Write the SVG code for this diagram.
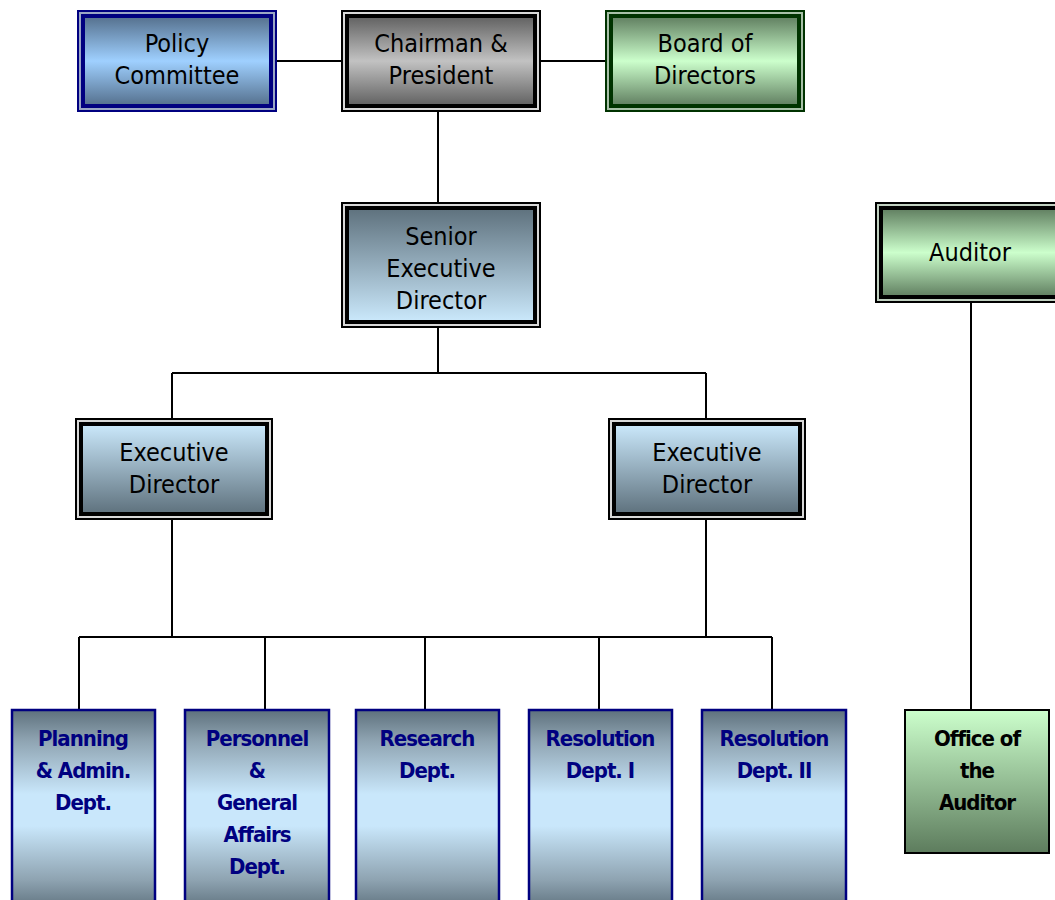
<svg xmlns="http://www.w3.org/2000/svg" width="1055" height="900" viewBox="0 0 1055 900">
<defs>
<linearGradient id="gBlue" x1="0" y1="0" x2="0" y2="1"><stop offset="0" stop-color="#546f8c"/><stop offset="0.5" stop-color="#9fd0ff"/><stop offset="1" stop-color="#546f8c"/></linearGradient>
<linearGradient id="gGray" x1="0" y1="0" x2="0" y2="1"><stop offset="0" stop-color="#606060"/><stop offset="0.5" stop-color="#c2c2c2"/><stop offset="1" stop-color="#606060"/></linearGradient>
<linearGradient id="gGreen" x1="0" y1="0" x2="0" y2="1"><stop offset="0" stop-color="#5f7d5f"/><stop offset="0.5" stop-color="#ccffcc"/><stop offset="1" stop-color="#5f7d5f"/></linearGradient>
<linearGradient id="gSenior" x1="0" y1="0" x2="0" y2="1"><stop offset="0" stop-color="#5e717d"/><stop offset="1" stop-color="#cbe9fc"/></linearGradient>
<linearGradient id="gExec" x1="0" y1="0" x2="0" y2="1"><stop offset="0" stop-color="#cbe9fc"/><stop offset="1" stop-color="#5e717d"/></linearGradient>
<linearGradient id="gDept" x1="0" y1="0" x2="0" y2="1"><stop offset="0" stop-color="#5e717d"/><stop offset="0.15" stop-color="#8ea3b1"/><stop offset="0.42" stop-color="#c9e7fb"/><stop offset="0.58" stop-color="#c9e7fb"/><stop offset="0.85" stop-color="#8ea3b1"/><stop offset="1" stop-color="#5e717d"/></linearGradient>
<linearGradient id="gOffice" x1="0" y1="0" x2="0" y2="1"><stop offset="0" stop-color="#ccffcc"/><stop offset="1" stop-color="#5d7c5d"/></linearGradient>
<style>
.t{font-family:"DejaVu Sans Condensed","DejaVu Sans",sans-serif;font-stretch:condensed;font-size:25px;fill:#000;text-anchor:middle}
.d{font-family:"DejaVu Sans Condensed","DejaVu Sans",sans-serif;font-stretch:condensed;font-weight:bold;font-size:22px;letter-spacing:-1px;fill:#000080;text-anchor:middle}
.c{stroke:#000;stroke-width:2;fill:none}
.outer{stroke-width:2}
.inner{stroke-width:4}
.dept{stroke:#000080;stroke-width:2.5;fill:url(#gDept)}
</style>
</defs>
<g id="connectors" class="c">
<line x1="277" y1="61" x2="341" y2="61"/>
<line x1="541" y1="61" x2="605" y2="61"/>
<line x1="438" y1="112" x2="438" y2="202"/>
<line x1="438" y1="328" x2="438" y2="373"/>
<line x1="172" y1="373" x2="706" y2="373"/>
<line x1="172" y1="373" x2="172" y2="418"/>
<line x1="706" y1="373" x2="706" y2="418"/>
<line x1="172" y1="520" x2="172" y2="637"/>
<line x1="706" y1="520" x2="706" y2="637"/>
<line x1="79" y1="637" x2="772" y2="637"/>
<line x1="79" y1="637" x2="79" y2="709"/>
<line x1="265" y1="637" x2="265" y2="709"/>
<line x1="425" y1="637" x2="425" y2="709"/>
<line x1="599" y1="637" x2="599" y2="709"/>
<line x1="772" y1="637" x2="772" y2="709"/>
<line x1="971" y1="303" x2="971" y2="709"/>
</g>
<g id="policy">
<rect class="outer" x="78" y="11" width="198" height="100" fill="#9aa6c4" stroke="#000080"/>
<rect class="inner" x="83" y="16" width="188" height="90" fill="url(#gBlue)" stroke="#000080"/>
<text class="t" x="177" y="52">Policy</text>
<text class="t" x="177" y="84">Committee</text>
</g>
<g id="chairman">
<rect class="outer" x="342" y="11" width="198" height="100" fill="#d8d8d8" stroke="#000"/>
<rect class="inner" x="347" y="16" width="188" height="90" fill="url(#gGray)" stroke="#000"/>
<text class="t" x="441" y="52">Chairman &amp;</text>
<text class="t" x="441" y="84">President</text>
</g>
<g id="board">
<rect class="outer" x="606" y="11" width="198" height="100" fill="#a8c0a8" stroke="#003300"/>
<rect class="inner" x="611" y="16" width="188" height="90" fill="url(#gGreen)" stroke="#003300"/>
<text class="t" x="705" y="52">Board of</text>
<text class="t" x="705" y="84">Directors</text>
</g>
<g id="senior">
<rect class="outer" x="342" y="203" width="198" height="124" fill="#d8d8d8" stroke="#000"/>
<rect class="inner" x="347" y="208" width="188" height="114" fill="url(#gSenior)" stroke="#000"/>
<text class="t" x="441" y="245">Senior</text>
<text class="t" x="441" y="277">Executive</text>
<text class="t" x="441" y="309">Director</text>
</g>
<g id="auditor">
<rect class="outer" x="876" y="203" width="190" height="99" fill="#c0d0c0" stroke="#000"/>
<rect class="inner" x="881" y="208" width="180" height="89" fill="url(#gGreen)" stroke="#000"/>
<text class="t" x="970" y="261">Auditor</text>
</g>
<g id="exec-left">
<rect class="outer" x="76" y="419" width="196" height="100" fill="#d8d8d8" stroke="#000"/>
<rect class="inner" x="81" y="424" width="186" height="90" fill="url(#gExec)" stroke="#000"/>
<text class="t" x="174" y="461">Executive</text>
<text class="t" x="174" y="493">Director</text>
</g>
<g id="exec-right">
<rect class="outer" x="609" y="419" width="196" height="100" fill="#d8d8d8" stroke="#000"/>
<rect class="inner" x="614" y="424" width="186" height="90" fill="url(#gExec)" stroke="#000"/>
<text class="t" x="707" y="461">Executive</text>
<text class="t" x="707" y="493">Director</text>
</g>
<g id="planning">
<rect class="dept" x="12" y="710" width="143" height="200"/>
<text class="d" x="83" y="746">Planning</text>
<text class="d" x="83" y="778">&amp; Admin.</text>
<text class="d" x="83" y="810">Dept.</text>
</g>
<g id="personnel">
<rect class="dept" x="185" y="710" width="144" height="200"/>
<text class="d" x="257" y="746">Personnel</text>
<text class="d" x="257" y="778">&amp;</text>
<text class="d" x="257" y="810">General</text>
<text class="d" x="257" y="842">Affairs</text>
<text class="d" x="257" y="874">Dept.</text>
</g>
<g id="research">
<rect class="dept" x="356" y="710" width="143" height="200"/>
<text class="d" x="427" y="746">Research</text>
<text class="d" x="427" y="778">Dept.</text>
</g>
<g id="resolution1">
<rect class="dept" x="529" y="710" width="143" height="200"/>
<text class="d" x="600" y="746">Resolution</text>
<text class="d" x="600" y="778">Dept. I</text>
</g>
<g id="resolution2">
<rect class="dept" x="702" y="710" width="144" height="200"/>
<text class="d" x="774" y="746">Resolution</text>
<text class="d" x="774" y="778">Dept. II</text>
</g>
<g id="office">
<rect x="905" y="710" width="144" height="143" fill="url(#gOffice)" stroke="#000" stroke-width="2"/>
<text class="d" x="977" y="746" style="fill:#000">Office of</text>
<text class="d" x="977" y="778" style="fill:#000">the</text>
<text class="d" x="977" y="810" style="fill:#000">Auditor</text>
</g>
</svg>
